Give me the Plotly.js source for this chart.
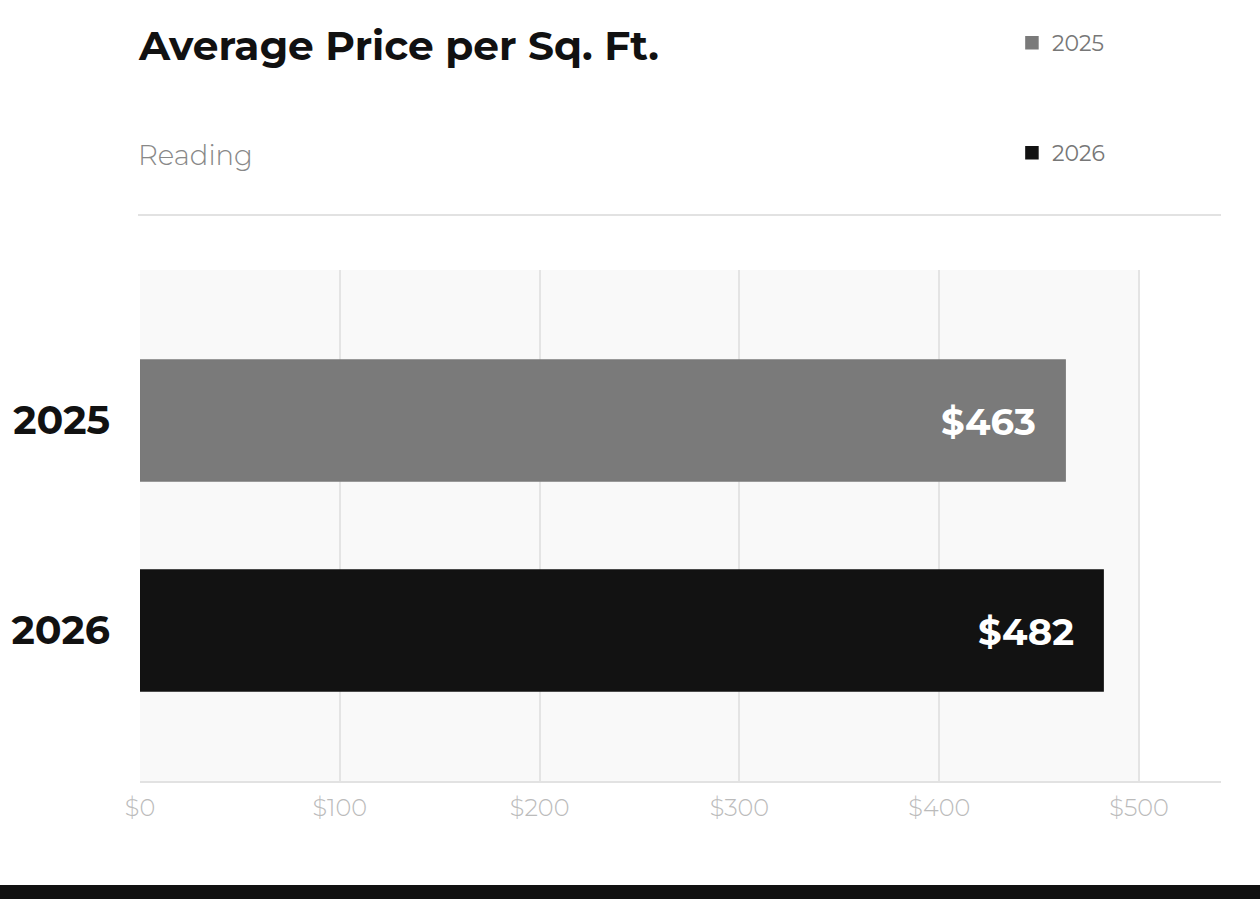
<!DOCTYPE html>
<html>
<head>
<meta charset="utf-8">
<script src="https://cdn.plot.ly/plotly-3.0.1.min.js"></script>
<style>
  html, body { margin: 0; padding: 0; background: #ffffff; }
  #chart_container { width: 1260px; height: 899px; }
</style>
</head>
<body>
<div id="chart_container"></div>
<script>
// values
var years = ['2025', '2026'];
var prices = [463, 482];
var barColors = ['#7a7a7a', '#121212'];
var priceLabels = ['$463', '$482'];
var chartTitle = 'Average Price per Sq. Ft.';
var chartSubtitle = 'Reading';

var FONT = 'Montserrat, Inter, "Noto Sans", sans-serif';

var traces = years.map(function(year, i) {
	return {
		type: 'bar',
		orientation: 'h',
		name: year,
		x: [prices[i]],
		y: [year],
		width: 0.576,
		marker: { color: barColors[i], line: { color: barColors[i], width: 1.5 } },
		legend: i === 0 ? 'legend' : 'legend2',
		hoverinfo: 'skip'
	};
});

// value labels sit inside the bar end; y given as category index
var labels = years.map(function(year, i) {
	return {
		x: prices[i], y: i, xref: 'x', yref: 'y',
		text: priceLabels[i], showarrow: false,
		xanchor: 'right', yanchor: 'middle', xshift: -27, yshift: -1,
		font: { family: FONT, size: 37, color: '#ffffff', weight: 700 }
	};
});

labels.push({
	x: -4 / 1081, y: (781 - 155) / 511, xref: 'paper', yref: 'paper',
	text: chartSubtitle, showarrow: false,
	xanchor: 'left', yanchor: 'middle',
	font: { family: FONT, size: 27.5, color: '#888888', weight: 300 }
});

var legendFont = { family: FONT, size: 22, color: '#777777' };

var layout = {
	width: 1260,
	height: 899,
	margin: { l: 140, r: 39, t: 270, b: 118 },
	paper_bgcolor: '#ffffff',
	plot_bgcolor: 'rgba(0,0,0,0)',
	bargap: 0,
	title: {
		text: chartTitle,
		xref: 'container', yref: 'container',
		x: 139 / 1260, xanchor: 'left',
		y: 1 - 46 / 899, yanchor: 'middle',
		font: { family: FONT, size: 40.7, color: '#111111', weight: 700 }
	},
	xaxis: {
		range: [0, 541],
		dtick: 100, tick0: 0,
		tickprefix: '$',
		showgrid: true, gridcolor: '#e4e4e4', gridwidth: 2,
		zeroline: false,
		showline: true, linecolor: '#e2e2e2', linewidth: 2,
		ticks: '', ticklabelstandoff: 4,
		tickfont: { family: FONT, size: 24, color: '#bbbbbb', weight: 300 },
		fixedrange: true
	},
	yaxis: {
		type: 'category',
		categoryorder: 'array', categoryarray: years,
		range: [1.7167, -0.7167],
		showgrid: false, zeroline: false, showline: false,
		ticks: '', ticklabelstandoff: 29,
		tickfont: { family: FONT, size: 39.5, color: '#111111', weight: 700 },
		fixedrange: true
	},
	showlegend: true,
	legend: {
		x: 0.8066, xanchor: 'left', y: (781 - 43) / 511, yanchor: 'middle',
		font: legendFont, bgcolor: 'rgba(0,0,0,0)'
	},
	legend2: {
		x: 0.8066, xanchor: 'left', y: (781 - 153) / 511, yanchor: 'middle',
		font: legendFont, bgcolor: 'rgba(0,0,0,0)'
	},
	shapes: [
		// light panel behind the 0-500 range
		{ type: 'rect', layer: 'below', xref: 'x', yref: 'paper',
		  x0: 0, x1: 500, y0: 0, y1: 1,
		  fillcolor: '#f9f9f9', line: { width: 0 } },
		// divider under the header
		{ type: 'line', xref: 'paper', yref: 'paper',
		  x0: -2 / 1081, x1: 1, y0: (781 - 215) / 511, y1: (781 - 215) / 511,
		  line: { color: '#e2e2e2', width: 2 } },
		// dark band at the bottom
		{ type: 'rect', xref: 'paper', yref: 'paper',
		  x0: -0.2, x1: 1.1, y0: (781 - 885) / 511, y1: (781 - 905) / 511,
		  fillcolor: '#111111', line: { width: 0 } }
	],
	annotations: labels
};

Plotly.newPlot('chart_container', traces, layout, { displayModeBar: false, staticPlot: true });
</script>
</body>
</html>
